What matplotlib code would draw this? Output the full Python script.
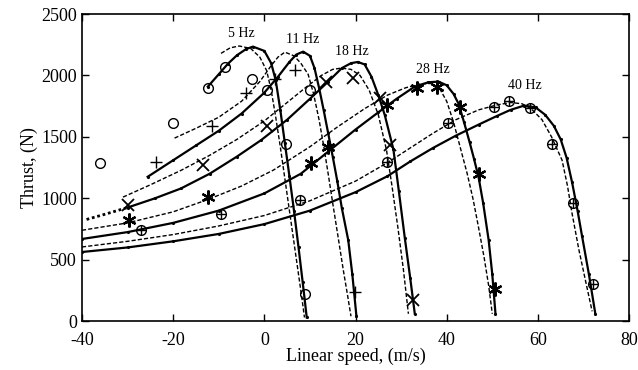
import matplotlib
matplotlib.use("Agg")
import matplotlib.pyplot as plt

plt.rcParams['font.family'] = ['Liberation Serif', 'DejaVu Serif']
plt.rcParams['axes.unicode_minus'] = False

# curves: (speed m/s, thrust N)
s5 = [(-12.4, 1909), (-10, 2010), (-8, 2095), (-6, 2165), (-4, 2215), (-2.5, 2235), (0, 2200),
      (1.5, 2100), (2.5, 1960), (3.5, 1720), (4.5, 1450), (5.5, 1180), (6.5, 900), (7.5, 600),
      (8.4, 320), (9.3, 30)]
d5 = [(-9.5, 2180), (-7.5, 2225), (-5.5, 2240), (-3, 2220), (-1, 2150), (0.5, 2040), (1.5, 1880),
      (2.5, 1660), (3.5, 1420), (4.5, 1160), (5.5, 900), (6.5, 640), (7.5, 380), (8.3, 170), (8.8, 30)]
s11 = [(-25.6, 1175), (-20, 1310), (-15, 1430), (-10, 1550), (-5, 1690), (0, 1860), (3, 1990),
       (5.5, 2110), (7, 2170), (8.5, 2194), (10, 2160), (11, 2060), (12, 1900), (13, 1720),
       (14, 1530), (15, 1340), (16, 1140), (17, 920), (18.4, 660), (19.3, 380), (20.2, 40)]
d11 = [(-19.7, 1490), (-15, 1570), (-10, 1660), (-5, 1790), (-1, 1950), (1.5, 2080), (3, 2150),
       (4.5, 2190), (6.5, 2160), (8, 2100), (9.6, 2010), (10.8, 1850), (12, 1640), (13, 1430),
       (14, 1200), (15, 960), (16.2, 680), (17.3, 420), (18.3, 200), (19, 40)]
s18_dot = [(-39, 828), (-35, 870), (-30, 925)]
s18 = [(-30, 925), (-24, 1000), (-18.3, 1080), (-12, 1200), (-6, 1340), (-0.7, 1474), (5, 1640),
       (10, 1810), (14, 1950), (17, 2060), (19, 2100), (20.5, 2110), (22, 2090), (23.5, 1990),
       (25, 1840), (26.4, 1680), (28.3, 1400), (29.5, 1060), (30.8, 680), (32, 350), (33, 60)]
d18 = [(-31, 1010), (-25, 1110), (-18.2, 1229), (-12, 1350), (-6, 1480), (0, 1630), (5, 1780),
       (9, 1900), (12.5, 2000), (15, 2050), (16.9, 2060), (19, 2050), (21, 2000), (23, 1880),
       (25, 1680), (26.8, 1392), (28, 1100), (29.3, 760), (30.5, 420), (31.6, 60)]
s28 = [(-40, 669), (-30, 725), (-20, 800), (-10, 900), (0, 1040), (8, 1200), (14, 1380), (20, 1560),
       (25, 1700), (29, 1810), (33, 1910), (36, 1945), (38.2, 1950), (40, 1920), (41.5, 1850),
       (42.6, 1770), (43.8, 1620), (45, 1460), (46, 1320), (47, 1170), (48, 960), (49.2, 660),
       (50, 380), (50.7, 60)]
d28 = [(-40, 740), (-30, 800), (-20, 890), (-12.4, 990), (-5, 1100), (2, 1230), (10, 1420),
       (16, 1580), (22, 1730), (27, 1840), (31, 1900), (34, 1930), (36.5, 1935), (38.5, 1890),
       (40, 1790), (41.5, 1620), (43, 1410), (44.5, 1200), (45.8, 990), (47, 760), (48.2, 520),
       (49.2, 290), (50, 60)]
s40 = [(-40, 563), (-30, 600), (-20, 650), (-10, 710), (0, 790), (10, 900), (20, 1050), (27, 1180),
       (32, 1300), (37, 1410), (42, 1510), (47, 1600), (51, 1670), (54, 1720), (57, 1755),
       (59.5, 1740), (61.6, 1680), (63.5, 1590), (65, 1480), (66.3, 1330), (67.5, 1130),
       (68.7, 900), (69.7, 690), (71.2, 380), (72.6, 60)]
d40 = [(-40, 604), (-30, 650), (-20, 705), (-10, 775), (0, 860), (10, 980), (20, 1140), (27, 1290),
       (32, 1410), (37, 1530), (42, 1640), (47, 1720), (51, 1760), (54, 1780), (56.5, 1770),
       (58.5, 1730), (60.9, 1640), (63, 1500), (65.3, 1311), (66.5, 1100), (67.5, 876), (69, 580),
       (70.5, 320), (71.9, 80)]

# measured points
m5 = [(-36, 1290), (-20, 1610), (-12.4, 1900), (-8.7, 2065), (-2.7, 1970), (0.5, 1878),
      (4.7, 1439), (10, 1880), (8.9, 223)]
m11 = [(-23.7, 1292), (-11.4, 1585), (-4, 1855), (2.4, 1970), (6.7, 2045), (19.9, 237)]
m18 = [(-30, 944), (-13.5, 1270), (0.5, 1590), (13.6, 1950), (19.5, 1977), (25.4, 1814),
       (27.6, 1433), (32.7, 169)]
m28 = [(-29.6, 821), (-12.4, 1011), (10.3, 1284), (14, 1419), (26.8, 1760), (33.4, 1896),
       (37.8, 1904), (42.9, 1745), (47, 1202), (50.6, 264)]
m40 = [(-27, 740), (-9.5, 876), (7.8, 985), (26.8, 1297), (40.3, 1610), (50.3, 1745),
       (53.7, 1792), (58.3, 1732), (63.2, 1441), (67.6, 962), (72, 305)]

labels = ['5 Hz', '11 Hz', '18 Hz', '28 Hz', '40 Hz']
label_pos = [(-5, 2340), (8.5, 2290), (19.1, 2195), (37, 2045), (57.2, 1922)]


def xy(pts):
    return [p[0] for p in pts], [p[1] for p in pts]


fig = plt.figure(figsize=(6.38, 3.70), dpi=100)
ax = fig.add_axes([0.1285, 0.132, 0.8575, 0.83])

for c in [s5, s11, s18, s28, s40]:
    ax.plot(*xy(c), color='black', lw=1.6, marker='.', ms=2.5)
for c in [d5, d11, d18, d28, d40]:
    ax.plot(*xy(c), color='black', lw=1.0, ls=(0, (3, 1.5)))
ax.plot(*xy(s18_dot), color='black', lw=2.0, ls=(0, (1, 1)))

mk = dict(color='black', ls='none', mfc='none', mew=1.0)
ax.plot(*xy(m5), marker='o', ms=7, **mk)
ax.plot(*xy(m11), marker='+', ms=9, **mk)
ax.plot(*xy(m18), marker='x', ms=8, mew=1.3, color='black', ls='none')
ax.plot(*xy(m28), marker=(6, 2, 0), ms=10, mew=1.6, color='black', ls='none')
ax.plot(*xy(m40), marker='o', ms=7, **mk)
ax.plot(*xy(m40), marker='+', ms=7, **mk)

for t, (x, y) in zip(labels, label_pos):
    ax.text(x, y, t, fontsize=10, ha='center', va='center')

ax.set_xlim(-40, 80)
ax.set_ylim(0, 2500)
ax.set_xticks(range(-40, 81, 20))
ax.set_yticks(range(0, 2501, 500))
ax.tick_params(direction='in', top=True, right=True, length=5, labelsize=13, width=1)
ax.tick_params(axis='x', pad=8)
for sp in ax.spines.values():
    sp.set_linewidth(1.2)
ax.set_xlabel('Linear speed, (m/s)', fontsize=13, labelpad=-1)
ax.set_ylabel('Thrust, (N)', fontsize=13, labelpad=2)

fig.savefig('out.png', dpi=100)
